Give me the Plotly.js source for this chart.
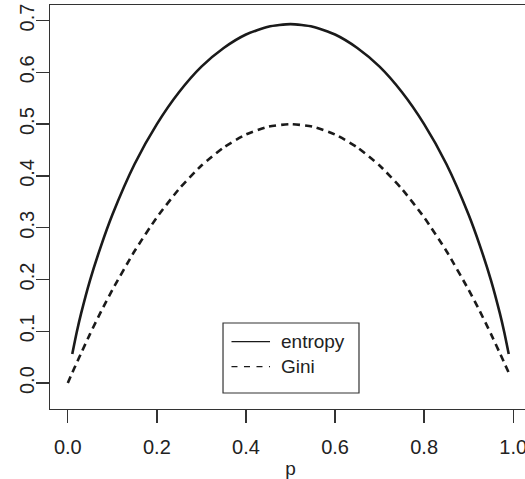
<!DOCTYPE html>
<html>
<head>
<meta charset="utf-8">
<script src="https://cdn.plot.ly/plotly-3.0.1.min.js"></script>
<style>
html, body { margin: 0; padding: 0; overflow: hidden; background: #fff; }
#chart { width: 532px; height: 479px; }
</style>
</head>
<body>
<div id="chart"></div>
<script>
// Values
var pEntropy = [0.01, 0.02, 0.03, 0.05, 0.075, 0.1, 0.15, 0.2, 0.25, 0.3, 0.35, 0.4, 0.45, 0.5,
                0.55, 0.6, 0.65, 0.7, 0.75, 0.8, 0.85, 0.9, 0.925, 0.95, 0.97, 0.98, 0.99];
var entropy = [0.056, 0.098, 0.135, 0.199, 0.266, 0.325, 0.423, 0.500, 0.562, 0.611, 0.647, 0.673, 0.688, 0.693,
               0.688, 0.673, 0.647, 0.611, 0.562, 0.500, 0.423, 0.325, 0.266, 0.199, 0.135, 0.098, 0.056];
var pGini = [0.0, 0.01, 0.02, 0.03, 0.05, 0.075, 0.1, 0.15, 0.2, 0.25, 0.3, 0.35, 0.4, 0.45, 0.5,
             0.55, 0.6, 0.65, 0.7, 0.75, 0.8, 0.85, 0.9, 0.925, 0.95, 0.97, 0.98, 0.99];
var gini = [0.0, 0.020, 0.039, 0.058, 0.095, 0.139, 0.180, 0.255, 0.320, 0.375, 0.420, 0.455, 0.480, 0.495, 0.500,
            0.495, 0.480, 0.455, 0.420, 0.375, 0.320, 0.255, 0.180, 0.139, 0.095, 0.058, 0.039, 0.020];
var xTicks = [0, 0.2, 0.4, 0.6, 0.8, 1.0];
var yTicks = [0, 0.1, 0.2, 0.3, 0.4, 0.5, 0.6, 0.7];
var seriesNames = ["entropy", "Gini"];

var fontFam = "Liberation Sans, Arial, sans-serif";
var ink = "#1a1a1a";
var dashPat = "7px,5px";

var traces = [
  { x: pEntropy, y: entropy, type: "scatter", mode: "lines", name: seriesNames[0], showlegend: false,
    line: { color: ink, width: 2.6, dash: "solid", shape: "spline", smoothing: 0.6 } },
  { x: pGini, y: gini, type: "scatter", mode: "lines", name: seriesNames[1], showlegend: false,
    line: { color: ink, width: 2.6, dash: dashPat, shape: "spline", smoothing: 0.6 } }
];

// R-style legend box (paper coordinates)
var legBox = { x0: 0.3597, x1: 0.6424, y0: 0.0396, y1: 0.2129 };
var legRows = [0.1666, 0.1047];
var legLine = { x0: 0.3773, x1: 0.4574 };
var legTextX = 0.4761;
var legDash = ["solid", "6px,6.5px"];

var shapes = [
  { type: "rect", xref: "paper", yref: "paper", x0: legBox.x0, x1: legBox.x1, y0: legBox.y0, y1: legBox.y1,
    line: { color: "#333", width: 1.2 }, fillcolor: "#fff", layer: "above" }
];
var annotations = [];
seriesNames.forEach(function (nm, i) {
  shapes.push({ type: "line", xref: "paper", yref: "paper", x0: legLine.x0, x1: legLine.x1,
    y0: legRows[i], y1: legRows[i], line: { color: ink, width: 1.2, dash: legDash[i] }, layer: "above" });
  annotations.push({ xref: "paper", yref: "paper", x: legTextX, y: legRows[i], xanchor: "left", yanchor: "middle",
    text: nm, showarrow: false, font: { family: fontFam, size: 19, color: "#222" } });
});

var layout = {
  width: 532, height: 479,
  margin: { l: 50, r: 1, t: 5, b: 70 },
  paper_bgcolor: "#ffffff", plot_bgcolor: "#ffffff",
  font: { family: fontFam, size: 20, color: "#222" },
  showlegend: false,
  shapes: shapes,
  annotations: annotations,
  xaxis: {
    range: [-0.04, 1.04], tickmode: "array", tickvals: xTicks, tickformat: ".1f",
    showgrid: false, zeroline: false, showline: true, mirror: true,
    linecolor: "#333", linewidth: 1.3,
    ticks: "outside", ticklen: 13, tickwidth: 1.3, tickcolor: "#333",
    ticklabelstandoff: 7,
    title: { text: "p", standoff: 4, font: { family: fontFam, size: 19, color: "#222" } }
  },
  yaxis: {
    range: [-0.05, 0.73], tickmode: "array", tickvals: yTicks, tickformat: ".1f",
    tickangle: -90,
    showgrid: false, zeroline: false, showline: true, mirror: true,
    linecolor: "#333", linewidth: 1.3,
    ticks: "outside", ticklen: 13, tickwidth: 1.3, tickcolor: "#333",
    ticklabelstandoff: -6
  }
};

Plotly.newPlot("chart", traces, layout, { staticPlot: true, displayModeBar: false });
</script>
</body>
</html>
